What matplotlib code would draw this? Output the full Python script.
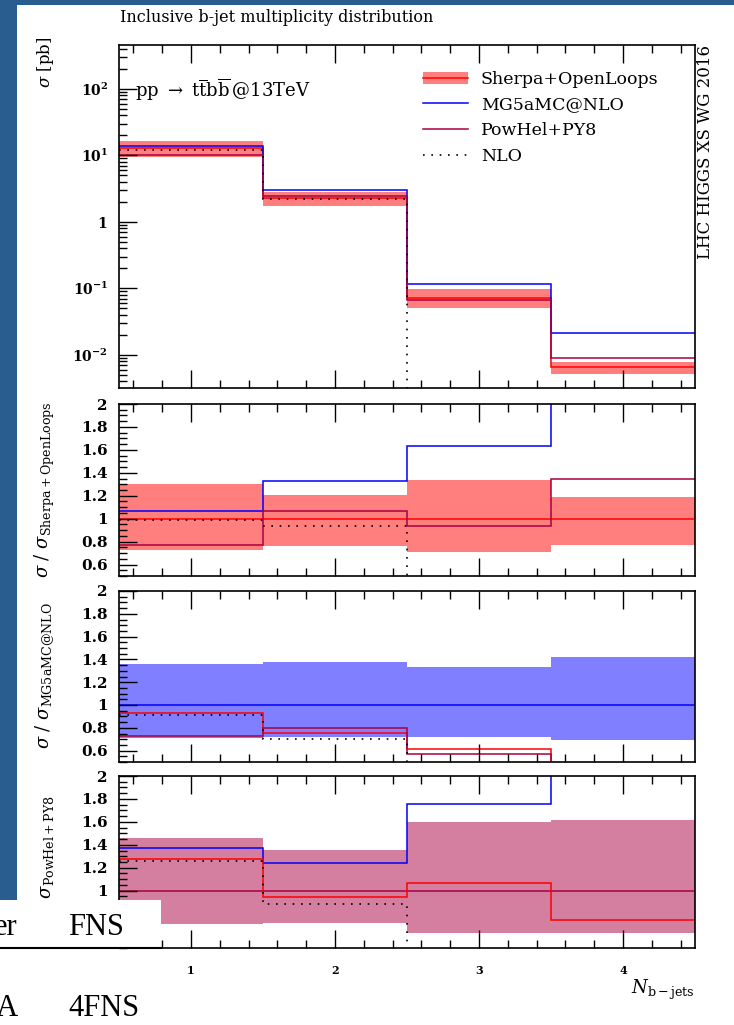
import numpy as np
import matplotlib
matplotlib.use("Agg")
import matplotlib.pyplot as plt
from matplotlib.patches import Rectangle, Patch
from matplotlib.lines import Line2D
from matplotlib.ticker import MultipleLocator, LogLocator, NullFormatter

plt.rcParams['font.family'] = ['DejaVu Serif']
plt.rcParams['mathtext.fontset'] = 'dejavuserif'

# bins in N_b-jets
edges = [0.5, 1.5, 2.5, 3.5, 4.5]
xticks = [1, 2, 3, 4]

# absolute cross sections [pb]
xs_sherpa = [12.8, 2.3, 0.0714, 0.0066]
xs_sherpa_lo = [9.4, 1.75, 0.051, 0.0051]
xs_sherpa_hi = [16.2, 2.8, 0.097, 0.0079]
xs_mg5 = [13.7, 3.0, 0.116, 0.0212]
xs_powhel = [10.1, 2.45, 0.066, 0.0089]
xs_nlo = [12.2, 2.17, 0.0, 0.0]

# ratio to Sherpa+OpenLoops
r_sh_lo = [0.73, 0.76, 0.71, 0.77]
r_sh_hi = [1.30, 1.21, 1.34, 1.19]
r_sh_mg5 = [1.07, 1.33, 1.63, 3.2]
r_sh_powhel = [0.77, 1.07, 0.94, 1.35]
r_sh_nlo = [0.99, 0.94, 0.0, 0.0]

# ratio to MG5aMC@NLO
r_mg_lo = [0.71, 0.72, 0.72, 0.69]
r_mg_hi = [1.36, 1.38, 1.335, 1.42]
r_mg_sherpa = [0.93, 0.755, 0.61, 0.31]
r_mg_powhel = [0.73, 0.80, 0.57, 0.42]
r_mg_nlo = [0.915, 0.70, 0.0, 0.0]

# ratio to PowHel+PY8
r_pw_lo = [0.71, 0.72, 0.63, 0.63]
r_pw_hi = [1.46, 1.355, 1.60, 1.62]
r_pw_mg5 = [1.376, 1.24, 1.755, 2.38]
r_pw_sherpa = [1.28, 0.945, 1.065, 0.745]
r_pw_nlo = [1.26, 0.88, 0.0, 0.0]

c_sh = '#ff0000'
c_mg = '#0000ff'
c_pw = '#aa0040'
lw = 1.1
dots = (0, (1, 4))

W, H = 734, 1025
fig = plt.figure(figsize=(W / 100, H / 100), dpi=100, facecolor='white')

def fbox(x0, y0, x1, y1):
  return [x0 / W, 1 - y1 / H, (x1 - x0) / W, (y1 - y0) / H]

ax1 = fig.add_axes(fbox(119, 45, 695, 388))
ax2 = fig.add_axes(fbox(119, 404, 695, 576))
ax3 = fig.add_axes(fbox(119, 591, 695, 762))
ax4 = fig.add_axes(fbox(119, 776, 695, 948))

def style(ax):
  ax.set_xlim(0.5, 4.5)
  ax.xaxis.set_major_locator(MultipleLocator(1))
  ax.xaxis.set_minor_locator(MultipleLocator(0.2))
  ax.tick_params(which='both', direction='in', top=True, right=False, width=1.0)
  ax.tick_params(which='major', length=13)
  ax.tick_params(which='minor', length=6)
  ax.tick_params(axis='y', which='major', pad=8)
  for s in ax.spines.values():
    s.set_linewidth(1.2)
  for lab in ax.get_yticklabels():
    lab.set_fontweight('bold')

# ---- main panel
ax1.stairs(xs_sherpa_hi, edges, baseline=xs_sherpa_lo, fill=True, color=c_sh, alpha=0.5, lw=0)
ax1.stairs(xs_sherpa, edges, baseline=None, color=c_sh, lw=lw)
ax1.stairs(xs_mg5, edges, baseline=None, color=c_mg, lw=lw)
ax1.stairs(xs_powhel, edges, baseline=None, color=c_pw, lw=lw)
ax1.stairs(xs_nlo, edges, baseline=None, color='k', lw=1.2, ls=dots)
ax1.set_yscale('log')
ax1.set_ylim(10 ** -2.5, 10 ** 2.66)
ax1.set_yticks([1e-2, 1e-1, 1, 10, 100])
ax1.set_yticklabels([r'$\mathbf{10^{-2}}$', r'$\mathbf{10^{-1}}$', r'$\mathbf{1}$',
                     r'$\mathbf{10^{1}}$', r'$\mathbf{10^{2}}$'], fontsize=10)
ax1.yaxis.set_minor_locator(LogLocator(base=10, subs=np.arange(2, 10)))
ax1.yaxis.set_minor_formatter(NullFormatter())
style(ax1)
ax1.set_xticklabels([])
ax1.text(0.028, 0.87,
         r'$\mathrm{pp}\ \rightarrow\ \mathrm{t}\overline{\mathrm{t}}\mathrm{b}\overline{\mathrm{b}}\,$@13TeV',
         transform=ax1.transAxes, fontsize=13, va='center')

h_sh = (Patch(facecolor=c_sh, alpha=0.5, lw=0), Line2D([], [], color=c_sh, lw=lw))
h_mg = Line2D([], [], color=c_mg, lw=lw)
h_pw = Line2D([], [], color=c_pw, lw=lw)
h_nlo = Line2D([], [], color='k', lw=1.2, ls=dots)
ax1.legend([h_sh, h_mg, h_pw, h_nlo], ['Sherpa+OpenLoops', 'MG5aMC@NLO', 'PowHel+PY8', 'NLO'],
           loc='upper left', bbox_to_anchor=(0.515, 0.945), frameon=False, fontsize=12.5,
           handlelength=2.6, handletextpad=0.75, labelspacing=0.5, borderaxespad=0)

# ---- ratio panels
def ratio_panel(ax, lo, hi, col, ref_col, curves):
  ax.stairs(hi, edges, baseline=lo, fill=True, color=col, alpha=0.5, lw=0)
  ax.stairs(np.ones(4), edges, baseline=None, color=ref_col, lw=lw)
  for vals, c in curves:
    if c == 'nlo':
      ax.stairs(vals, edges, baseline=None, color='k', lw=1.2, ls=dots)
    else:
      ax.stairs(vals, edges, baseline=None, color=c, lw=lw)
  ax.set_ylim(0.5, 2.0)
  ax.set_yticks([0.6, 0.8, 1.0, 1.2, 1.4, 1.6, 1.8, 2.0])
  ax.set_yticklabels(['0.6', '0.8', '1', '1.2', '1.4', '1.6', '1.8', '2'], fontsize=11)
  ax.yaxis.set_minor_locator(MultipleLocator(0.05))
  style(ax)

ratio_panel(ax2, r_sh_lo, r_sh_hi, c_sh, c_sh,
            [(r_sh_mg5, c_mg), (r_sh_powhel, c_pw), (r_sh_nlo, 'nlo')])
ratio_panel(ax3, r_mg_lo, r_mg_hi, c_mg, c_mg,
            [(r_mg_sherpa, c_sh), (r_mg_powhel, c_pw), (r_mg_nlo, 'nlo')])
ratio_panel(ax4, r_pw_lo, r_pw_hi, c_pw, c_pw,
            [(r_pw_mg5, c_mg), (r_pw_sherpa, c_sh), (r_pw_nlo, 'nlo')])
ax2.set_xticklabels([])
ax3.set_xticklabels([])
ax4.set_xticks(xticks)
ax4.set_xticklabels([str(x) for x in xticks], fontsize=8, fontweight='bold')
ax4.tick_params(axis='x', which='major', pad=12)

# ---- labels
fig.text(120 / W, 1 - 18 / H, 'Inclusive b-jet multiplicity distribution', fontsize=11.5, va='center')
fig.text(45 / W, 1 - 37 / H, r'$\sigma$ [pb]', rotation=90, fontsize=12, ha='center', va='top')
fig.text(45 / W, 1 - 490 / H, r'$\sigma\ /\ \sigma_{\mathrm{Sherpa+OpenLoops}}$', rotation=90,
         fontsize=13, ha='center', va='center')
fig.text(45 / W, 1 - 676 / H, r'$\sigma\ /\ \sigma_{\mathrm{MG5aMC@NLO}}$', rotation=90,
         fontsize=13, ha='center', va='center')
fig.text(45 / W, 1 - 862 / H, r'$\sigma\ /\ \sigma_{\mathrm{PowHel+PY8}}$', rotation=90,
         fontsize=13, ha='center', va='center')
fig.text(705 / W, 1 - 45 / H, 'LHC HIGGS XS WG 2016', rotation=90, fontsize=12,
         ha='center', va='top')
fig.text(695 / W, 1 - 990 / H, r'$N_{\mathrm{b-jets}}$', fontsize=13, ha='right', va='center')

# ---- slide background pieces
blue = '#2a5d8f'
fig.add_artist(Rectangle((0, 1 - 5 / H), 1, 5 / H, transform=fig.transFigure,
                         facecolor=blue, edgecolor='none', zorder=-1))
fig.add_artist(Rectangle((0, 1 - 900 / H), 17 / W, 900 / H, transform=fig.transFigure,
                         facecolor=blue, edgecolor='none', zorder=-1))
fig.add_artist(Rectangle((0, 1 - 948 / H), 161 / W, 48 / H, transform=fig.transFigure,
                         facecolor='white', edgecolor='none', zorder=10))
fig.add_artist(Line2D([0, 161 / W], [1 - 948 / H, 1 - 948 / H], transform=fig.transFigure,
                      color='k', lw=1.5, zorder=11))
fig.text(17 / W, 1 - 935 / H, 'er', family='Liberation Serif', fontsize=22, ha='right',
         va='baseline', zorder=12)
fig.text(68 / W, 1 - 935 / H, 'FNS', family='Liberation Serif', fontsize=22, ha='left',
         va='baseline', zorder=12)
fig.text(18 / W, 1 - 1016 / H, 'PA', family='Liberation Serif', fontsize=22, ha='right',
         va='baseline', zorder=12)
fig.text(68 / W, 1 - 1016 / H, '4FNS', family='Liberation Serif', fontsize=22, ha='left',
         va='baseline', zorder=12)

fig.savefig('out.png', dpi=100, facecolor='white')
